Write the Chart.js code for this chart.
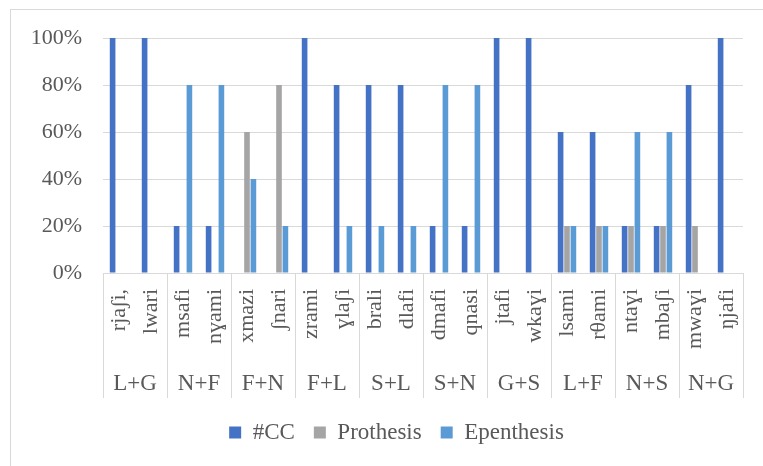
<!DOCTYPE html>
<html>
<head>
<meta charset="utf-8">
<script src="https://cdn.jsdelivr.net/npm/chart.js@4/dist/chart.umd.min.js"></script>
<style>
  html, body { margin: 0; padding: 0; background: #fff; overflow: hidden; }
  #frame { position: absolute; left: 10px; top: 9px; width: 800px; height: 500px; border: 1px solid #d9d9d9; }
  #chart { position: absolute; left: 0; top: 0; }
</style>
</head>
<body>
<div id="frame"></div>
<canvas id="chart" width="763" height="466"></canvas>
<script>
const words = ['rjaʃi,', 'lwari', 'msafi', 'nɣami', 'xmazi', 'ʃnari', 'zrami', 'ɣlaʃi', 'brali', 'dlafi',
               'dmafi', 'qnasi', 'jtafi', 'wkaɣi', 'lsami', 'rθami', 'ntaɣi', 'mbaʃi', 'mwaɣi', 'ŋjafi'];
const groups = ['L+G', 'N+F', 'F+N', 'F+L', 'S+L', 'S+N', 'G+S', 'L+F', 'N+S', 'N+G'];
const ccValues         = [100, 100, 20, 20, 0, 0, 100, 80, 80, 80, 20, 20, 100, 100, 60, 60, 20, 20, 80, 100];
const prothesisValues  = [0, 0, 0, 0, 60, 80, 0, 0, 0, 0, 0, 0, 0, 0, 20, 20, 20, 20, 20, 0];
const epenthesisValues = [0, 0, 80, 80, 40, 20, 0, 20, 20, 20, 80, 80, 0, 0, 20, 20, 60, 60, 0, 0];
const yTicks = [0, 20, 40, 60, 80, 100];

const serif = '"Liberation Serif", "Times New Roman", serif';
const textColor = '#595959';
const lineColor = '#d9d9d9';

// separator lines only between groups (every second word)
function groupSeparator(ctx) {
    if (ctx.index === undefined || ctx.index % 2 === 0) return lineColor;
    return 'rgba(0,0,0,0)';
}

function makeSet(label, data, color) {
    return {
        label: label,
        data: data,
        backgroundColor: color,
        borderWidth: 0,
        categoryPercentage: 0.6,
        barPercentage: 0.88
    };
}

new Chart(document.getElementById('chart').getContext('2d'), {
    type: 'bar',
    data: {
        labels: words,
        datasets: [
            makeSet('#CC', ccValues, '#4472C4'),
            makeSet('Prothesis', prothesisValues, '#A5A5A5'),
            makeSet('Epenthesis', epenthesisValues, '#5B9BD5')
        ]
    },
    options: {
        responsive: false,
        animation: false,
        layout: { padding: { left: 30, right: 0, top: 38, bottom: 12 } },
        plugins: {
            tooltip: { enabled: false },
            legend: {
                position: 'bottom',
                labels: {
                    boxWidth: 12,
                    boxHeight: 12,
                    padding: 19,
                    color: textColor,
                    font: { family: serif, size: 23 }
                }
            }
        },
        scales: {
            y: {
                min: 0,
                max: 100,
                afterBuildTicks: s => { s.ticks = yTicks.map(v => ({ value: v })); },
                afterFit: s => { s.width = 73; },
                grid: { color: lineColor, drawTicks: false },
                border: { display: false },
                ticks: {
                    padding: 21,
                    color: textColor,
                    font: { family: serif, size: 22 },
                    callback: v => v + '%'
                }
            },
            // empty spacer on the right, keeps the plot off the right edge
            yRight: {
                position: 'right',
                afterFit: s => { s.width = 20; },
                grid: { display: false },
                border: { display: false },
                ticks: { display: false }
            },
            x: {
                weight: 0,
                offset: true,
                afterFit: s => { s.height = 84; },
                grid: { offset: true, drawOnChartArea: false, tickLength: 84, color: groupSeparator },
                border: { display: true, color: lineColor },
                ticks: {
                    autoSkip: false,
                    minRotation: 90,
                    maxRotation: 90,
                    padding: -68,
                    color: textColor,
                    font: { family: serif, size: 22 }
                }
            },
            x2: {
                type: 'category',
                labels: groups,
                position: 'bottom',
                weight: 1,
                offset: true,
                afterFit: s => { s.height = 45; },
                grid: { offset: true, drawOnChartArea: false, tickLength: 41, color: lineColor },
                border: { display: false },
                ticks: {
                    autoSkip: false,
                    maxRotation: 0,
                    padding: -28,
                    color: textColor,
                    font: { family: serif, size: 23 }
                }
            }
        }
    }
});
</script>
</body>
</html>
